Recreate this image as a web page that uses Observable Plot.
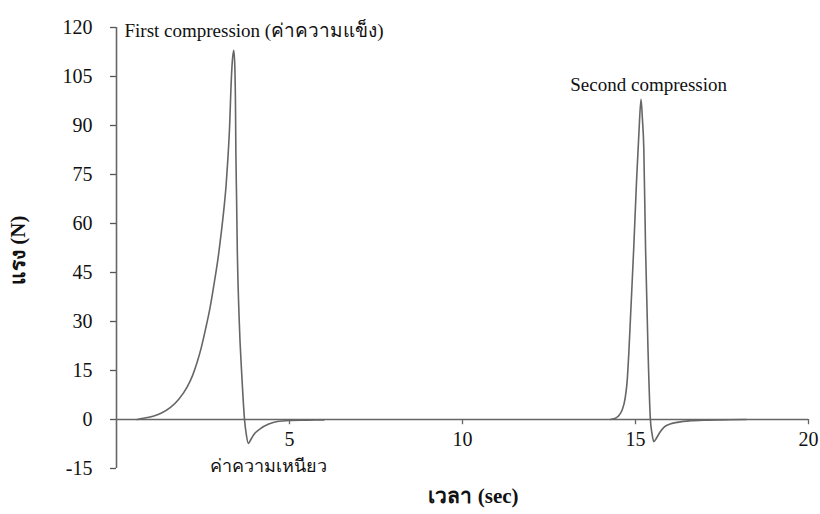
<!DOCTYPE html>
<html>
<head>
<meta charset="utf-8">
<script src="https://cdn.jsdelivr.net/npm/d3@7"></script>
<script src="https://cdn.jsdelivr.net/npm/@observablehq/plot@0.6"></script>
<style>
  html, body { margin: 0; padding: 0; background: #fff; }
  g[aria-label="y-axis tick"] path, g[aria-label="y-axis"] .tick line { stroke: #555; stroke-width: 1.3; }
</style>
</head>
<body>
<div id="chart"></div>
<script>
// First compression (time in s, force in N)
const time1 = [0.6, 0.69, 0.9, 1.08, 1.3, 1.56, 1.8, 2.04, 2.2, 2.33, 2.45, 2.57, 2.7, 2.82, 2.93, 3.02, 3.1, 3.17, 3.22, 3.27, 3.31, 3.35, 3.39, 3.42, 3.44, 3.45, 3.47, 3.49, 3.54, 3.63, 3.70, 3.75, 3.81, 3.88, 3.97, 4.16, 4.4, 4.65, 5.0, 5.5, 6.0];
const force1 = [0, 0.2, 0.6, 1.1, 2.0, 3.7, 6.2, 9.9, 13.5, 17.5, 22, 27.5, 34, 41.5, 49, 56.5, 64, 72, 80, 90, 102, 110, 113, 108, 95, 82, 68, 52.7, 32.3, 11.9, 0, -4.5, -7.3, -6.2, -4.6, -2.8, -1.4, -0.6, -0.3, -0.2, -0.1];
// Second compression
const time2 = [14.28, 14.37, 14.5, 14.61, 14.7, 14.76, 14.81, 14.86, 14.95, 15.03, 15.1, 15.16, 15.2, 15.24, 15.29, 15.36, 15.43, 15.48, 15.53, 15.6, 15.7, 15.82, 16.0, 16.25, 16.6, 17.0, 17.5, 18.2];
const force2 = [0, 0.2, 1.0, 2.8, 6.5, 11.9, 21, 32.3, 52.7, 73, 88, 98, 92, 83, 52.7, 22, 0, -4.5, -6.8, -5.8, -4.0, -2.4, -1.4, -0.8, -0.4, -0.2, -0.1, 0];

const xTicks = [5, 10, 15, 20];
const yTicks = [-15, 0, 15, 30, 45, 60, 75, 90, 105, 120];

const note1 = { text: "First compression (ค่าความแข็ง)", x: 0.23, y: 119 };
const note2 = { text: "Second compression", x: 15.38, y: 102.4 };
const note3 = { text: "ค่าความเหนียว", x: 4.39, y: -14.4 };

const xLabel = "เวลา (sec)";
const yLabel = "แรง (N)";

const curve1 = time1.map((t, i) => ({t, f: force1[i]}));
const curve2 = time2.map((t, i) => ({t, f: force2[i]}));

const serif = "'Liberation Serif', 'Times New Roman', serif";
const axisColor = "#666";
const lineColor = "#666";

const chart = Plot.plot({
  width: 820,
  height: 514,
  marginLeft: 116,
  marginRight: 12,
  marginTop: 27,
  marginBottom: 46,
  style: { fontFamily: serif, fontSize: "20px", color: "#111", background: "#fff" },
  x: { domain: [0, 20], axis: null },
  y: { domain: [-15, 120], ticks: yTicks, tickSize: 6, tickPadding: 18, label: null, tickFormat: d => String(d) },
  marks: [
    Plot.ruleX([0], { stroke: axisColor, strokeWidth: 1.6 }),
    Plot.ruleY([0], { stroke: axisColor, strokeWidth: 1.6 }),
    Plot.ruleX(xTicks, { x: d => d, y1: 0, y2: -1.6, stroke: axisColor, strokeWidth: 1.3 }),
    Plot.text(xTicks, { x: d => d, y: 0, dy: 20, text: d => String(d), fontSize: 20, fontFamily: serif, fill: "#111" }),
    Plot.line(curve1, { x: "t", y: "f", stroke: lineColor, strokeWidth: 1.6, curve: "monotone-x" }),
    Plot.line(curve2, { x: "t", y: "f", stroke: lineColor, strokeWidth: 1.6, curve: "monotone-x" }),
    Plot.text([note1], { x: "x", y: "y", text: "text", textAnchor: "start", fontSize: 19, fontFamily: serif, fill: "#111" }),
    Plot.text([note2], { x: "x", y: "y", text: "text", textAnchor: "middle", fontSize: 19, fontFamily: serif, fill: "#111" }),
    Plot.text([note3], { x: "x", y: "y", text: "text", textAnchor: "middle", fontSize: 18, fontFamily: serif, fill: "#111" }),
    Plot.text([xLabel], { frameAnchor: "bottom", dx: 11, dy: 34, text: d => d, fontSize: 21, fontWeight: "bold", fontFamily: serif, fill: "#111" }),
    Plot.text([yLabel], { frameAnchor: "left", dx: -98, dy: 37, rotate: -90, text: d => d, fontSize: 21, fontWeight: "bold", fontFamily: serif, fill: "#111" })
  ]
});

document.getElementById("chart").appendChild(chart);
</script>
</body>
</html>
